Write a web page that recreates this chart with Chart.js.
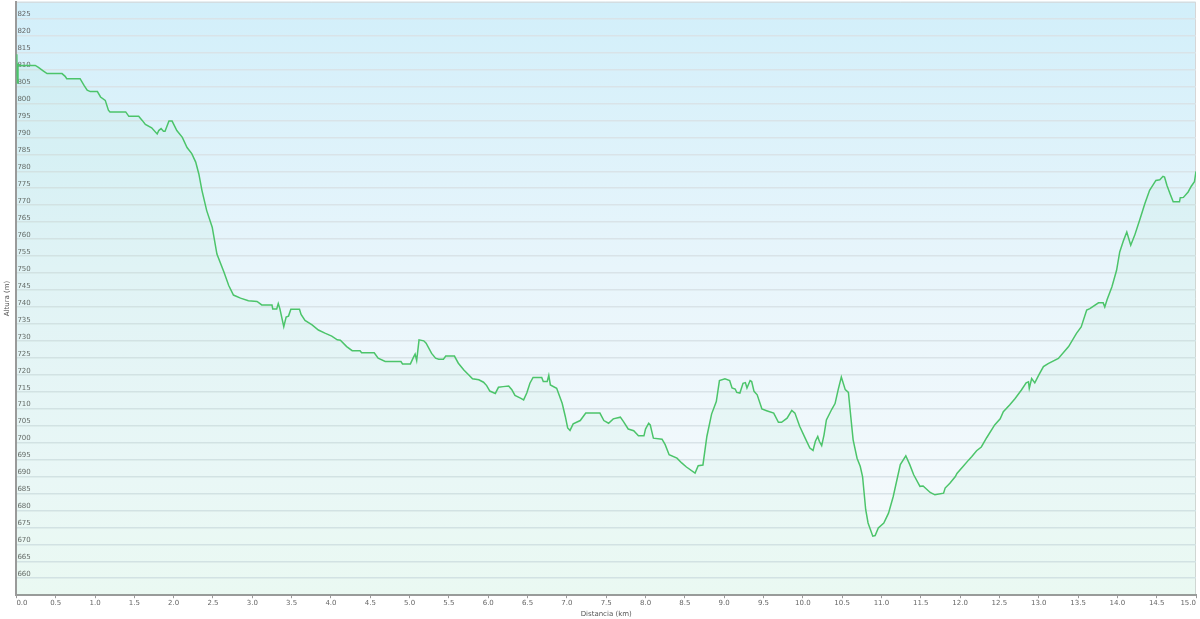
<!DOCTYPE html>
<html>
<head>
<meta charset="utf-8">
<script src="https://cdn.jsdelivr.net/npm/chart.js@4"></script>
<style>
  html, body { margin: 0; padding: 0; background: #fff; }
  #wrap { width: 1200px; height: 619px; position: relative; }
</style>
</head>
<body>
<div id="wrap"><canvas id="perfil"></canvas></div>
<script>
var distKm = [
  0.00, 0.005, 0.01, 0.02, 0.05, 0.24, 0.28, 0.34, 0.39, 0.58, 0.62, 0.64, 0.81, 0.86, 0.90, 0.94,
  1.03, 1.07, 1.13, 1.17, 1.19, 1.39, 1.43, 1.555, 1.60, 1.64, 1.72, 1.79, 1.81, 1.84, 1.87, 1.89,
  1.94, 1.98, 2.04, 2.11, 2.17, 2.23, 2.28, 2.32, 2.36, 2.42, 2.49, 2.55, 2.64, 2.70, 2.76, 2.85,
  2.95, 3.06, 3.12, 3.25, 3.26, 3.31, 3.33, 3.35, 3.40, 3.43, 3.46, 3.49, 3.60, 3.62, 3.67, 3.76,
  3.84, 3.93, 4.01, 4.08, 4.12, 4.20, 4.27, 4.37, 4.39, 4.55, 4.60, 4.69, 4.89, 4.91, 5.01, 5.05,
  5.07, 5.09, 5.12, 5.18, 5.21, 5.28, 5.33, 5.37, 5.43, 5.46, 5.57, 5.62, 5.69, 5.75, 5.80, 5.88,
  5.94, 5.98, 6.02, 6.09, 6.13, 6.19, 6.26, 6.30, 6.34, 6.41, 6.45, 6.49, 6.53, 6.57, 6.68, 6.70,
  6.75, 6.77, 6.79, 6.87, 6.94, 6.98, 7.01, 7.04, 7.08, 7.17, 7.24, 7.42, 7.47, 7.53, 7.59, 7.68,
  7.72, 7.78, 7.85, 7.91, 7.98, 8.00, 8.04, 8.06, 8.10, 8.21, 8.25, 8.30, 8.40, 8.46, 8.52, 8.63,
  8.67, 8.73, 8.78, 8.84, 8.90, 8.94, 9.01, 9.07, 9.10, 9.14, 9.16, 9.20, 9.24, 9.27, 9.29, 9.33,
  9.35, 9.38, 9.42, 9.48, 9.54, 9.63, 9.69, 9.73, 9.80, 9.86, 9.90, 9.96, 10.03, 10.09, 10.13, 10.16,
  10.19, 10.21, 10.24, 10.27, 10.30, 10.37, 10.41, 10.45, 10.49, 10.54, 10.58, 10.61, 10.64, 10.69, 10.73, 10.76,
  10.80, 10.83, 10.89, 10.92, 10.96, 11.03, 11.09, 11.15, 11.24, 11.31, 11.36, 11.41, 11.49, 11.53, 11.62, 11.68,
  11.79, 11.81, 11.87, 11.94, 11.96, 12.04, 12.11, 12.15, 12.21, 12.27, 12.34, 12.44, 12.51, 12.55, 12.63, 12.70,
  12.78, 12.84, 12.87, 12.88, 12.91, 12.95, 13.00, 13.06, 13.12, 13.25, 13.38, 13.48, 13.54, 13.61, 13.65, 13.76,
  13.82, 13.84, 13.87, 13.93, 13.99, 14.03, 14.08, 14.12, 14.17, 14.22, 14.29, 14.35, 14.41, 14.49, 14.54, 14.58,
  14.60, 14.63, 14.67, 14.71, 14.79, 14.80, 14.84, 14.90, 14.94, 14.98, 15.00
];
var alturaM = [
  808, 814.5, 806, 811.5, 811.2, 811.2, 810.6, 809.6, 808.8, 808.8, 808, 807.3, 807.3, 805.3, 803.9, 803.5,
  803.5, 801.9, 800.9, 798, 797.5, 797.5, 796.2, 796.2, 795, 793.8, 792.8, 791, 792, 792.6, 791.8, 791.8,
  794.8, 794.8, 792, 790, 787, 785.2, 782.7, 779.2, 774.3, 768.4, 763.5, 755.6, 750.2, 746.3, 743.5, 742.6,
  741.8, 741.6, 740.6, 740.6, 739.4, 739.4, 741, 739.5, 734.2, 737, 737.3, 739.3, 739.3, 737.8, 736, 734.7,
  733.2, 732.2, 731.4, 730.3, 730.2, 728.3, 727.1, 727.1, 726.5, 726.5, 724.9, 723.9, 723.9, 723.2, 723.2, 725.2,
  726.1, 724.2, 730.3, 730, 729.3, 726.3, 724.9, 724.6, 724.6, 725.5, 725.5, 723.4, 721.4, 720, 718.8, 718.5,
  717.8, 716.8, 715.2, 714.5, 716.3, 716.5, 716.7, 715.6, 713.9, 713.1, 712.6, 714.6, 717.5, 719.2, 719.2, 718,
  718, 719.8, 717, 716, 711.6, 707.7, 704.3, 703.6, 705.5, 706.5, 708.7, 708.7, 706.5, 705.7, 707, 707.5,
  706.2, 704, 703.5, 702, 702, 704, 705.7, 705.2, 701.3, 701, 699.4, 696.4, 695.4, 694, 692.8, 691,
  693.2, 693.4, 701.8, 708.4, 712.1, 718.3, 718.8, 718.3, 716.1, 715.8, 714.8, 714.6, 717.5, 717.7, 716.1, 718.3,
  718, 715.1, 714.1, 709.9, 709.4, 708.7, 706, 706, 707.2, 709.5, 708.7, 704.8, 701.3, 698.4, 697.7, 700.4,
  701.8, 700.4, 699.1, 702.3, 706.7, 709.9, 711.5, 715.6, 719.3, 715.6, 714.8, 707.7, 700.8, 695.4, 693, 690,
  680.2, 676.3, 672.4, 672.6, 674.8, 676.3, 679.2, 684.1, 693.5, 696.1, 693.5, 690.5, 687.1, 687.2, 685.3, 684.6,
  685.1, 686.6, 688, 690, 690.9, 693, 694.9, 695.9, 697.6, 698.7, 701.5, 705.2, 707, 709.1, 711.1, 713,
  715.5, 717.6, 717.9, 716, 718.9, 717.6, 719.9, 722.4, 723.3, 724.8, 728.3, 732.2, 734.1, 739.1, 739.5, 741.2,
  741.2, 740, 742.2, 745.9, 750.8, 756.2, 759.7, 762.1, 758.2, 761.1, 766.1, 770.5, 774.4, 777.3, 777.5, 778.5,
  778.3, 775.9, 773.4, 771, 771, 772.2, 772.3, 773.9, 775.6, 776.9, 780
];
var yMin = 655, yMax = 830;

var puntos = [];
for (var i in distKm) {
    puntos.push({ x: distKm[i], y: alturaM[i] });
}

var fondo = {
    id: 'fondo',
    beforeDraw: function(chart) {
        var ctx = chart.ctx, a = chart.chartArea;
        ctx.save();
        ctx.fillStyle = '#fff';
        ctx.fillRect(0, 0, chart.width, chart.height);
        var g = ctx.createLinearGradient(0, a.top, 0, a.bottom);
        g.addColorStop(0, '#d2effa');
        g.addColorStop(0.45, '#e8f5fb');
        g.addColorStop(0.8, '#f2f9fc');
        g.addColorStop(1, '#f3fbf8');
        ctx.fillStyle = g;
        ctx.fillRect(a.left, a.top, a.right - a.left, a.bottom - a.top);
        ctx.strokeStyle = '#d6d6d6';
        ctx.lineWidth = 1;
        ctx.beginPath();
        ctx.moveTo(a.left, a.top + 0.5);
        ctx.lineTo(a.right - 0.5, a.top + 0.5);
        ctx.lineTo(a.right - 0.5, a.bottom);
        ctx.stroke();
        ctx.restore();
    }
};

var etiquetaFont = { family: 'DejaVu Sans', size: 7 };

var perfil = new Chart(document.getElementById('perfil'), {
    type: 'line',
    data: {
        datasets: [{
            label: 'Altura',
            data: puntos,
            borderColor: '#4cc46a',
            borderWidth: 1.5,
            backgroundColor: 'rgba(110, 225, 150, 0.06)',
            fill: 'start',
            pointRadius: 0,
            tension: 0
        }]
    },
    options: {
        responsive: true,
        maintainAspectRatio: false,
        animation: false,
        layout: { padding: { top: 0, right: 4, left: 0, bottom: 0 } },
        plugins: {
            legend: { display: false },
            tooltip: { enabled: false }
        },
        scales: {
            x: {
                type: 'linear',
                min: 0,
                max: 15,
                grid: { drawOnChartArea: false, drawTicks: true, tickLength: 3, color: '#999' },
                border: { color: '#9a9a9a', width: 2 },
                ticks: {
                    stepSize: 0.5,
                    align: 'inner',
                    padding: 1,
                    color: '#666',
                    font: etiquetaFont,
                    maxRotation: 0,
                    callback: function(v) { return v.toFixed(1); }
                },
                title: {
                    display: true,
                    text: 'Distancia (km)',
                    color: '#555',
                    font: etiquetaFont,
                    padding: { top: 1, bottom: 1 }
                }
            },
            y: {
                min: yMin,
                max: yMax,
                afterBuildTicks: function(axis) {
                    axis.ticks = axis.ticks.filter(function(t) { return t.value > yMin && t.value < yMax; });
                },
                grid: { drawTicks: false, color: '#d9e3e8', lineWidth: 1.5 },
                border: { color: '#9a9a9a', width: 2 },
                ticks: {
                    stepSize: 5,
                    mirror: true,
                    padding: 1,
                    labelOffset: -4,
                    color: '#666',
                    font: { family: 'DejaVu Sans', size: 7, lineHeight: 0.2 }
                },
                title: {
                    display: true,
                    text: 'Altura (m)',
                    color: '#555',
                    font: etiquetaFont,
                    padding: { top: 3, bottom: 3 }
                }
            }
        }
    },
    plugins: [fondo]
});
</script>
</body>
</html>
